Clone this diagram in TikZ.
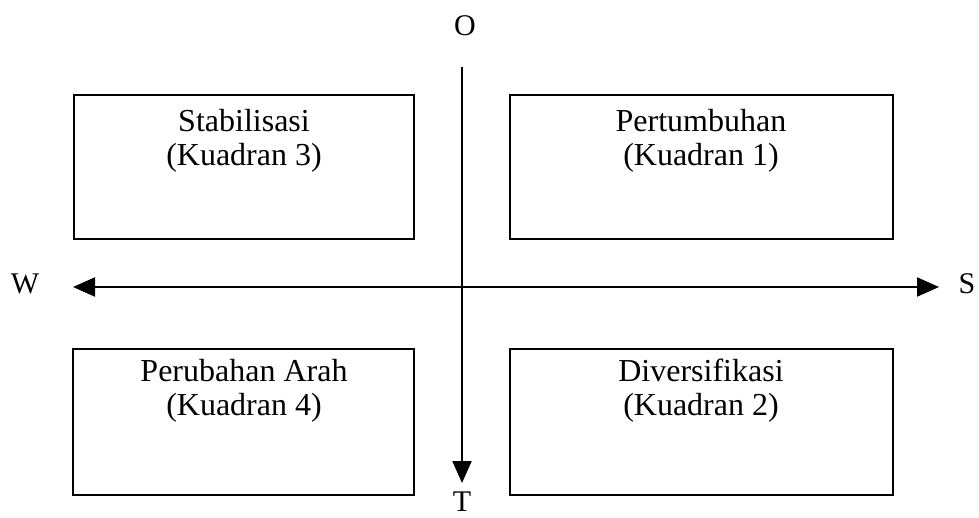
\documentclass[tikz,border=0pt]{standalone}
\usepackage{fontspec}
\setmainfont{Liberation Serif}
\usetikzlibrary{arrows.meta}
\begin{document}
\begin{tikzpicture}[x=1pt,y=-1pt,
  quadbox/.style={draw=black,line width=2.4pt},
  quadtext/.style={font=\fontsize{32}{34}\selectfont,align=center,anchor=north,inner sep=0pt},
  axislabel/.style={font=\fontsize{30}{32}\selectfont,inner sep=0pt},
  axis/.style={line width=2.2pt,-{Triangle[length=22pt,width=19pt]}},
  axisboth/.style={line width=2.2pt,{Triangle[length=22pt,width=19pt]}-{Triangle[length=22pt,width=19pt]}}]
\useasboundingbox (0,0) rectangle (979,518);
% boxes
\draw[quadbox] (74,95) rectangle (414,239);
\draw[quadbox] (510,95) rectangle (893,239);
\draw[quadbox] (73,349) rectangle (414,495);
\draw[quadbox] (510,349) rectangle (893,495);
% texts
\node[quadtext] (q3) at (244,109) {Stabilisasi\\(Kuadran 3)};
\node[quadtext] (q1) at (701,109) {Pertumbuhan\\(Kuadran 1)};
\node[quadtext] (q4) at (244,359) {Perubahan Arah\\(Kuadran 4)};
\node[quadtext] (q2) at (701,359) {Diversifikasi\\(Kuadran 2)};
% axis labels
\node[axislabel] (o) at (465,26) {O};
\node[axislabel] (t) at (462,502) {T};
\node[axislabel] (w) at (25,284) {W};
\node[axislabel] (s) at (967,284) {S};
% axes
\coordinate (vtop) at (462,67);
\coordinate (vbot) at (462,483);
\coordinate (hl) at (73,287);
\coordinate (hr) at (939,287);
\draw[axis] (vtop) -- (vbot);
\draw[axisboth] (hl) -- (hr);
\end{tikzpicture}
\end{document}
